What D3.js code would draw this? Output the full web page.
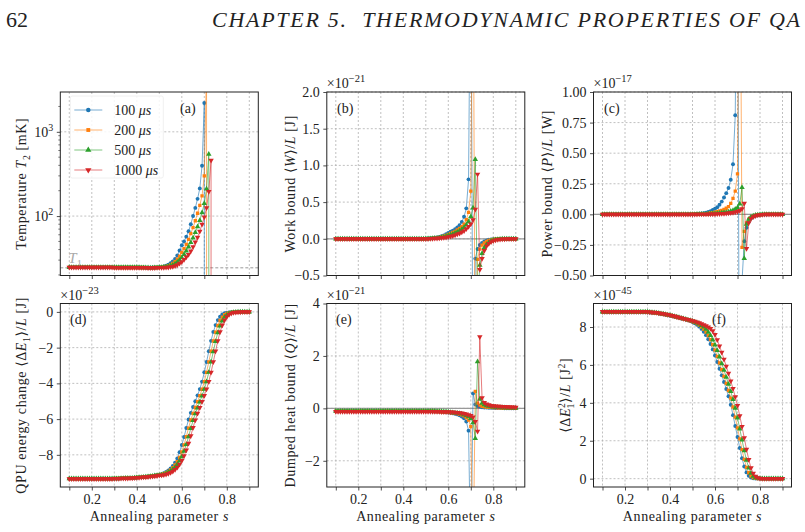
<!DOCTYPE html>
<html>
<head>
<meta charset="utf-8">
<script src="https://cdn.jsdelivr.net/npm/d3@7"></script>
<style>
  body { margin: 0; background: #fff; }
  svg text { font-family: "Liberation Serif", "DejaVu Serif", serif; fill: #222; }
</style>
</head>
<body>
<svg id="fig" width="805" height="532"></svg>
<script>
// annealing parameter grid
const sVals = [0.10,0.11,0.12,0.13,0.14,0.15,0.16,0.17,0.18,0.19,
  0.20,0.21,0.22,0.23,0.24,0.25,0.26,0.27,0.28,0.29,
  0.30,0.31,0.32,0.33,0.34,0.35,0.36,0.37,0.38,0.39,
  0.40,0.41,0.42,0.43,0.44,0.45,0.46,0.47,0.48,0.49,
  0.50,0.51,0.52,0.53,0.54,0.55,0.56,0.57,0.58,0.59,
  0.60,0.61,0.62,0.63,0.64,0.65,0.66,0.67,0.68,0.69,
  0.70,0.71,0.72,0.73,0.74,0.75,0.76,0.77,0.78,0.79,
  0.80,0.81,0.82,0.83,0.84,0.85,0.86,0.87,0.88,0.89,
  0.90];

const seriesNames = ["100", "200", "500", "1000"];
const xTicks = [0.1,0.2,0.3,0.4,0.5,0.6,0.7,0.8,0.9];
const xLabelTicks = [0.2,0.4,0.6,0.8];

// (a) temperature T2 [mK]  (negative = unphysical, clipped on log axis)
const t2_100 = [24.6,24.6,24.6,24.6,24.6,24.6,24.6,24.6,24.6,24.6,
  24.6,24.6,24.6,24.6,24.6,24.6,24.6,24.6,24.6,24.6,
  24.5,24.5,24.5,24.5,24.5,24.5,24.5,24.5,24.5,24.5,
  24.5,24.5,24.5,24.5,24.4,24.4,24.4,24.5,24.5,24.6,
  24.7,24.9,25.2,25.7,26.4,27.5,29.0,31.0,34.0,39.0,
  45,50,57,66,80,100,125,160,213,396,
  2200,-1,-1,-1,-1,-1,-1,-1,-1,-1,
  -1,-1,-1,-1,-1,-1,-1,-1,-1,-1,
  -1];
const t2_200 = [24.6,24.6,24.6,24.6,24.6,24.6,24.6,24.6,24.6,24.6,
  24.6,24.6,24.6,24.6,24.6,24.6,24.6,24.6,24.6,24.6,
  24.5,24.5,24.5,24.5,24.5,24.5,24.5,24.5,24.5,24.5,
  24.5,24.5,24.5,24.5,24.4,24.4,24.4,24.4,24.5,24.5,
  24.6,24.7,24.9,25.2,25.7,26.4,27.4,28.8,30.8,33.5,
  37,41,46,53,62,73,88,108,134,174,
  300,6000,-1,-1,-1,-1,-1,-1,-1,-1,
  -1,-1,-1,-1,-1,-1,-1,-1,-1,-1,
  -1];
const t2_500 = [24.6,24.6,24.6,24.6,24.6,24.6,24.6,24.6,24.6,24.6,
  24.6,24.6,24.6,24.6,24.6,24.6,24.6,24.6,24.6,24.6,
  24.5,24.5,24.5,24.5,24.5,24.5,24.5,24.5,24.5,24.5,
  24.5,24.5,24.4,24.4,24.4,24.4,24.3,24.3,24.4,24.4,
  24.5,24.6,24.7,24.9,25.2,25.6,26.2,27.1,28.3,30.0,
  32,35,38.5,43,48.5,55,64,75,89,110,
  141,210,543,-1,-1,-1,-1,-1,-1,-1,
  -1,-1,-1,-1,-1,-1,-1,-1,-1,-1,
  -1];
const t2_1000 = [24.7,24.7,24.7,24.7,24.7,24.7,24.7,24.7,24.7,24.7,
  24.6,24.6,24.6,24.6,24.6,24.6,24.6,24.6,24.6,24.6,
  24.5,24.5,24.5,24.5,24.5,24.5,24.5,24.5,24.5,24.5,
  24.5,24.4,24.4,24.4,24.4,24.3,24.3,24.3,24.3,24.4,
  24.4,24.5,24.5,24.6,24.7,24.9,25.2,25.7,26.4,27.4,
  28.7,30.4,32.5,35,38.5,43,49,56,66,80,
  97,125,195,460,-1,-1,-1,-1,-1,-1,
  -1,-1,-1,-1,-1,-1,-1,-1,-1,-1,
  -1];
const t1Level = 24.3;

// (b) work bound <W>/L  [1e-21 J]
const work_100 = [0,0,0,0,0,0,0,0,0,0, 0,0,0,0,0,0,0,0,0,0,
  0,0,0,0,0,0,0,0,0,0, 0,0,0,0,0,0,0,0,0,0,
  0.003,0.005,0.007,0.01,0.014,0.019,0.026,0.035,0.047,0.063,
  0.08,0.095,0.11,0.13,0.155,0.185,0.23,0.3,0.415,0.81,
  4.5,-2.5,-0.27,-0.14,-0.085,-0.055,-0.035,-0.022,-0.014,-0.009,
  -0.006,-0.004,-0.003,-0.002,-0.001,-0.001,0,0,0,0,
  0];
const work_200 = [0,0,0,0,0,0,0,0,0,0, 0,0,0,0,0,0,0,0,0,0,
  0,0,0,0,0,0,0,0,0,0, 0,0,0,0,0,0,0,0,0,0,
  0.002,0.003,0.005,0.007,0.01,0.014,0.019,0.026,0.035,0.047,
  0.06,0.072,0.086,0.1,0.12,0.14,0.165,0.2,0.26,0.36,
  0.65,4.5,-2.5,-0.28,-0.14,-0.085,-0.055,-0.035,-0.022,-0.014,
  -0.009,-0.006,-0.004,-0.003,-0.002,-0.001,-0.001,0,0,0,
  0];
const work_500 = [0,0,0,0,0,0,0,0,0,0, 0,0,0,0,0,0,0,0,0,0,
  0,0,0,0,0,0,0,0,0,0, 0,0,0,0,0,0,0,0,0,0,
  0.001,0.002,0.003,0.005,0.007,0.01,0.013,0.018,0.024,0.032,
  0.042,0.052,0.063,0.076,0.09,0.107,0.128,0.155,0.19,0.235,
  0.3,0.42,1.08,-0.9,-0.36,-0.2,-0.12,-0.075,-0.048,-0.03,
  -0.02,-0.013,-0.008,-0.005,-0.003,-0.002,-0.001,-0.001,0,0,
  0];
const work_1000 = [0,0,0,0,0,0,0,0,0,0, 0,0,0,0,0,0,0,0,0,0,
  0,0,0,0,0,0,0,0,0,0, 0,0,0,0,0,0,0,0,0,0,
  0.001,0.001,0.002,0.003,0.005,0.007,0.009,0.012,0.016,0.021,
  0.027,0.034,0.042,0.052,0.063,0.076,0.092,0.11,0.135,0.165,
  0.2,0.26,0.4,0.88,-0.42,-0.27,-0.16,-0.1,-0.065,-0.042,
  -0.027,-0.018,-0.012,-0.008,-0.005,-0.003,-0.002,-0.001,-0.001,0,
  0];

// (c) power bound <P>/L  [1e-17 W]
const power_100 = [0,0,0,0,0,0,0,0,0,0, 0,0,0,0,0,0,0,0,0,0,
  0,0,0,0,0,0,0,0,0,0, 0,0,0,0,0,0,0,0,0,0,
  0.002,0.003,0.004,0.005,0.007,0.01,0.014,0.019,0.026,0.035,
  0.045,0.058,0.078,0.104,0.137,0.173,0.215,0.283,0.41,0.81,
  3,-3,-0.55,-0.22,-0.11,-0.06,-0.035,-0.02,-0.012,-0.007,
  -0.004,-0.002,-0.001,-0.001,0,0,0,0,0,0,
  0];
const power_200 = [0,0,0,0,0,0,0,0,0,0, 0,0,0,0,0,0,0,0,0,0,
  0,0,0,0,0,0,0,0,0,0, 0,0,0,0,0,0,0,0,0,0,
  0.001,0.001,0.002,0.002,0.003,0.004,0.006,0.008,0.011,0.014,
  0.018,0.022,0.027,0.033,0.041,0.05,0.063,0.09,0.13,0.19,
  0.33,3,-0.27,-0.14,-0.07,-0.04,-0.025,-0.015,-0.009,-0.005,
  -0.003,-0.002,-0.001,0,0,0,0,0,0,0,
  0];
const power_500 = [0,0,0,0,0,0,0,0,0,0, 0,0,0,0,0,0,0,0,0,0,
  0,0,0,0,0,0,0,0,0,0, 0,0,0,0,0,0,0,0,0,0,
  0,0,0.001,0.001,0.001,0.002,0.002,0.003,0.004,0.005,
  0.006,0.007,0.009,0.011,0.013,0.016,0.02,0.025,0.032,0.042,
  0.055,0.085,0.22,-0.36,-0.08,-0.04,-0.022,-0.012,-0.007,-0.004,
  -0.002,-0.001,-0.001,0,0,0,0,0,0,0,
  0];
const power_1000 = [0,0,0,0,0,0,0,0,0,0, 0,0,0,0,0,0,0,0,0,0,
  0,0,0,0,0,0,0,0,0,0, 0,0,0,0,0,0,0,0,0,0,
  0,0,0,0.001,0.001,0.001,0.001,0.002,0.002,0.003,
  0.003,0.004,0.005,0.006,0.007,0.008,0.01,0.012,0.015,0.018,
  0.022,0.03,0.045,0.09,-0.28,-0.07,-0.035,-0.02,-0.012,-0.007,
  -0.004,-0.002,-0.001,0,0,0,0,0,0,0,
  0];

// (d) QPU energy change <dE1>/L  [1e-23 J]
const dE_100 = [-9.33,-9.33,-9.33,-9.33,-9.33,-9.33,-9.33,-9.33,-9.33,-9.33,
  -9.33,-9.33,-9.33,-9.33,-9.33,-9.33,-9.33,-9.33,-9.33,-9.33,
  -9.32,-9.32,-9.32,-9.31,-9.31,-9.3,-9.3,-9.29,-9.29,-9.28,
  -9.27,-9.26,-9.25,-9.24,-9.23,-9.21,-9.2,-9.18,-9.16,-9.14,
  -9.12,-9.08,-9.03,-8.96,-8.87,-8.76,-8.62,-8.44,-8.2,-7.85,
  -7.45,-7.0,-6.5,-6.02,-5.65,-5.32,-5.0,-4.67,-4.32,-3.9,
  -3.38,-2.8,-2.2,-1.62,-1.12,-0.74,-0.46,-0.27,-0.15,-0.08,
  -0.045,-0.025,-0.013,-0.007,-0.004,-0.002,-0.001,0,0,0,
  0];
const dE_200 = [-9.33,-9.33,-9.33,-9.33,-9.33,-9.33,-9.33,-9.33,-9.33,-9.33,
  -9.33,-9.33,-9.33,-9.33,-9.33,-9.33,-9.33,-9.33,-9.33,-9.33,
  -9.32,-9.32,-9.32,-9.31,-9.31,-9.3,-9.3,-9.29,-9.29,-9.28,
  -9.27,-9.26,-9.25,-9.24,-9.23,-9.21,-9.2,-9.18,-9.16,-9.14,
  -9.13,-9.1,-9.06,-9.0,-8.93,-8.84,-8.72,-8.57,-8.38,-8.14,
  -7.83,-7.44,-6.98,-6.5,-6.05,-5.68,-5.35,-5.02,-4.69,-4.33,
  -3.9,-3.38,-2.8,-2.2,-1.62,-1.13,-0.76,-0.48,-0.29,-0.16,
  -0.09,-0.05,-0.027,-0.014,-0.007,-0.004,-0.002,-0.001,0,0,
  0];
const dE_500 = [-9.34,-9.34,-9.34,-9.34,-9.34,-9.34,-9.34,-9.34,-9.34,-9.34,
  -9.34,-9.34,-9.34,-9.34,-9.34,-9.34,-9.34,-9.34,-9.34,-9.34,
  -9.33,-9.33,-9.33,-9.32,-9.32,-9.31,-9.31,-9.3,-9.3,-9.29,
  -9.28,-9.27,-9.26,-9.25,-9.24,-9.22,-9.21,-9.19,-9.17,-9.15,
  -9.14,-9.12,-9.09,-9.05,-8.99,-8.92,-8.82,-8.7,-8.54,-8.34,
  -8.1,-7.8,-7.42,-6.98,-6.52,-6.08,-5.7,-5.37,-5.04,-4.7,
  -4.33,-3.9,-3.38,-2.8,-2.22,-1.65,-1.16,-0.78,-0.5,-0.3,
  -0.17,-0.09,-0.05,-0.026,-0.013,-0.007,-0.003,-0.001,0,0,
  0];
const dE_1000 = [-9.34,-9.34,-9.34,-9.34,-9.34,-9.34,-9.34,-9.34,-9.34,-9.34,
  -9.34,-9.34,-9.34,-9.34,-9.34,-9.34,-9.34,-9.34,-9.34,-9.34,
  -9.33,-9.33,-9.33,-9.32,-9.32,-9.31,-9.31,-9.3,-9.3,-9.29,
  -9.28,-9.27,-9.26,-9.25,-9.24,-9.23,-9.22,-9.2,-9.19,-9.17,
  -9.15,-9.14,-9.12,-9.09,-9.05,-9.0,-8.93,-8.83,-8.7,-8.53,
  -8.32,-8.06,-7.74,-7.36,-6.93,-6.48,-6.05,-5.68,-5.35,-5.02,
  -4.68,-4.32,-3.9,-3.38,-2.8,-2.2,-1.62,-1.12,-0.74,-0.46,
  -0.27,-0.15,-0.08,-0.04,-0.02,-0.01,-0.005,-0.002,-0.001,0,
  0];

// (e) dumped heat bound <Q>/L  [1e-21 J]
const heat_100 = [-0.11,-0.11,-0.11,-0.11,-0.11,-0.11,-0.11,-0.11,-0.11,-0.11,
  -0.11,-0.11,-0.11,-0.11,-0.11,-0.11,-0.11,-0.11,-0.11,-0.11,
  -0.11,-0.11,-0.11,-0.11,-0.11,-0.11,-0.11,-0.11,-0.11,-0.11,
  -0.11,-0.11,-0.11,-0.11,-0.11,-0.11,-0.11,-0.11,-0.11,-0.11,
  -0.11,-0.11,-0.11,-0.12,-0.12,-0.12,-0.13,-0.13,-0.14,-0.15,
  -0.16,-0.17,-0.19,-0.21,-0.23,-0.26,-0.31,-0.38,-0.5,-0.85,
  -6,0.57,0.15,0.09,0.06,0.045,0.035,0.03,0.025,0.02,
  0.018,0.015,0.012,0.01,0.008,0.006,0.005,0.004,0.003,0.002,
  0.002];
const heat_200 = [-0.11,-0.11,-0.11,-0.11,-0.11,-0.11,-0.11,-0.11,-0.11,-0.11,
  -0.11,-0.11,-0.11,-0.11,-0.11,-0.11,-0.11,-0.11,-0.11,-0.11,
  -0.11,-0.11,-0.11,-0.11,-0.11,-0.11,-0.11,-0.11,-0.11,-0.11,
  -0.11,-0.11,-0.11,-0.11,-0.11,-0.11,-0.11,-0.11,-0.11,-0.11,
  -0.11,-0.11,-0.11,-0.11,-0.12,-0.12,-0.12,-0.13,-0.13,-0.14,
  -0.15,-0.16,-0.17,-0.18,-0.2,-0.22,-0.25,-0.29,-0.35,-0.45,
  -0.7,-6,0.65,0.2,0.12,0.08,0.06,0.05,0.04,0.035,
  0.03,0.025,0.02,0.016,0.013,0.01,0.008,0.006,0.005,0.004,
  0.003];
const heat_500 = [-0.11,-0.11,-0.11,-0.11,-0.11,-0.11,-0.11,-0.11,-0.11,-0.11,
  -0.11,-0.11,-0.11,-0.11,-0.11,-0.11,-0.11,-0.11,-0.11,-0.11,
  -0.11,-0.11,-0.11,-0.11,-0.11,-0.11,-0.11,-0.11,-0.11,-0.11,
  -0.11,-0.11,-0.11,-0.11,-0.11,-0.11,-0.11,-0.11,-0.11,-0.11,
  -0.11,-0.11,-0.11,-0.11,-0.11,-0.12,-0.12,-0.12,-0.13,-0.13,
  -0.14,-0.15,-0.16,-0.17,-0.18,-0.19,-0.21,-0.24,-0.27,-0.32,
  -0.38,-0.55,-1.15,1.78,0.35,0.2,0.14,0.1,0.08,0.065,
  0.055,0.045,0.038,0.032,0.027,0.022,0.018,0.015,0.012,0.01,
  0.008];
const heat_1000 = [-0.12,-0.12,-0.12,-0.12,-0.12,-0.12,-0.12,-0.12,-0.12,-0.12,
  -0.12,-0.12,-0.12,-0.12,-0.12,-0.12,-0.12,-0.12,-0.12,-0.12,
  -0.12,-0.12,-0.12,-0.12,-0.12,-0.12,-0.12,-0.12,-0.12,-0.12,
  -0.12,-0.12,-0.12,-0.12,-0.12,-0.12,-0.12,-0.12,-0.12,-0.12,
  -0.12,-0.12,-0.12,-0.12,-0.12,-0.12,-0.12,-0.13,-0.13,-0.13,
  -0.13,-0.14,-0.14,-0.15,-0.16,-0.17,-0.18,-0.2,-0.22,-0.25,
  -0.28,-0.33,-0.5,-0.88,2.73,0.4,0.22,0.16,0.13,0.11,
  0.1,0.09,0.08,0.075,0.07,0.065,0.06,0.055,0.05,0.045,
  0.04];

// (f) energy variance <dE1^2>/L  [1e-45 J^2]
const varE_100 = [8.78,8.78,8.78,8.78,8.78,8.78,8.78,8.78,8.78,8.78,
  8.78,8.78,8.78,8.78,8.78,8.78,8.78,8.78,8.78,8.78,
  8.77,8.76,8.75,8.74,8.73,8.71,8.69,8.67,8.65,8.62,
  8.6,8.57,8.54,8.51,8.48,8.45,8.42,8.39,8.35,8.31,
  8.26,8.2,8.12,8.02,7.9,7.75,7.57,7.35,7.1,6.82,
  6.5,6.15,5.8,5.45,5.1,4.73,4.35,3.9,3.35,2.78,
  2.2,1.62,1.08,0.64,0.33,0.15,0.06,0.022,0.008,0.003,
  0.001,0,0,0,0,0,0,0,0,0,
  0];
const varE_200 = [8.79,8.79,8.79,8.79,8.79,8.79,8.79,8.79,8.79,8.79,
  8.79,8.79,8.79,8.79,8.79,8.79,8.79,8.79,8.79,8.79,
  8.78,8.77,8.76,8.75,8.74,8.72,8.7,8.68,8.66,8.63,
  8.61,8.58,8.55,8.52,8.49,8.46,8.43,8.4,8.37,8.33,
  8.29,8.24,8.18,8.1,8.0,7.88,7.73,7.55,7.33,7.07,
  6.78,6.45,6.1,5.75,5.4,5.03,4.65,4.25,3.78,3.25,
  2.68,2.1,1.53,1.02,0.6,0.31,0.14,0.055,0.02,0.007,
  0.002,0.001,0,0,0,0,0,0,0,0,
  0];
const varE_500 = [8.8,8.8,8.8,8.8,8.8,8.8,8.8,8.8,8.8,8.8,
  8.8,8.8,8.8,8.8,8.8,8.8,8.8,8.8,8.8,8.8,
  8.79,8.78,8.77,8.76,8.75,8.73,8.71,8.69,8.67,8.64,
  8.62,8.59,8.56,8.53,8.5,8.47,8.44,8.41,8.38,8.35,
  8.31,8.27,8.22,8.16,8.09,8.0,7.88,7.73,7.55,7.32,
  7.06,6.76,6.42,6.07,5.72,5.36,4.98,4.6,4.18,3.72,
  3.2,2.63,2.05,1.48,0.97,0.57,0.29,0.13,0.05,0.02,
  0.007,0.003,0.001,0,0,0,0,0,0,0,
  0];
const varE_1000 = [8.81,8.81,8.81,8.81,8.81,8.81,8.81,8.81,8.81,8.81,
  8.81,8.81,8.81,8.81,8.81,8.81,8.81,8.81,8.81,8.81,
  8.8,8.79,8.78,8.77,8.76,8.74,8.72,8.7,8.68,8.65,
  8.63,8.6,8.57,8.54,8.51,8.48,8.45,8.42,8.39,8.36,
  8.33,8.3,8.26,8.22,8.17,8.12,8.06,8.0,7.92,7.8,
  7.6,7.32,7.0,6.66,6.3,5.93,5.55,5.15,4.75,4.32,
  3.85,3.32,2.75,2.15,1.55,1.0,0.57,0.28,0.12,0.05,
  0.02,0.008,0.003,0.001,0,0,0,0,0,0,
  0];

// ---- styling ----
const colors = ["#1f77b4", "#ff7f0e", "#2ca02c", "#d62728"];
const symbols = [d3.symbolCircle, d3.symbolSquare, d3.symbolTriangle, d3.symbolTriangle];
const symSize = [12, 11, 13, 13];
const symRot = [0, 0, 0, 180];

const colX = [60.3, 326.8, 593.5], axW = 198;
const rowY = [92, 303.5], axH = 183.5;
const fs = 14;

const minus = s => s.replace(/-/g, "\u2212");

const panels = [
  { id: "a", col: 0, row: 0, log: true, domain: [19.7, 2970], data: [t2_100, t2_200, t2_500, t2_1000],
    yticks: [100, 1000], letter: [180, 113], ylx: -34,
    ylabel: [{t: "Temperature "}, {t: "T", i: 1}, {t: "2", s: 1, dy: 4}, {t: " [mK]", dy: -4}] },
  { id: "b", col: 1, row: 0, domain: [-0.5, 2.0], data: [work_100, work_200, work_500, work_1000],
    yticks: [-0.5, 0, 0.5, 1.0, 1.5, 2.0], fmt: d3.format(".1f"), zero: true, exp: "\u221221", letter: [337, 113], ylx: -32,
    ylabel: [{t: "Work bound \u27E8"}, {t: "W", i: 1}, {t: "\u27E9/"}, {t: "L", i: 1}, {t: " [J]"}] },
  { id: "c", col: 2, row: 0, domain: [-0.5, 1.0], data: [power_100, power_200, power_500, power_1000],
    yticks: [-0.5, -0.25, 0, 0.25, 0.5, 0.75, 1.0], fmt: d3.format(".2f"), zero: true, exp: "\u221217", letter: [604, 113], ylx: -42,
    ylabel: [{t: "Power bound \u27E8"}, {t: "P", i: 1}, {t: "\u27E9/"}, {t: "L", i: 1}, {t: " [W]"}] },
  { id: "d", col: 0, row: 1, domain: [-9.8, 0.47], data: [dE_100, dE_200, dE_500, dE_1000],
    yticks: [-8, -6, -4, -2, 0], fmt: d3.format("d"), exp: "\u221223", letter: [70, 324], ylx: -34,
    ylabel: [{t: "QPU energy change \u27E8\u0394"}, {t: "E", i: 1}, {t: "1", s: 1, dy: 4}, {t: "\u27E9/", dy: -4}, {t: "L", i: 1}, {t: " [J]"}] },
  { id: "e", col: 1, row: 1, domain: [-3, 4], data: [heat_100, heat_200, heat_500, heat_1000],
    yticks: [-2, 0, 2, 4], fmt: d3.format("d"), zero: true, exp: "\u221221", letter: [336, 324], ylx: -32,
    ylabel: [{t: "Dumped heat bound \u27E8"}, {t: "Q", i: 1}, {t: "\u27E9/"}, {t: "L", i: 1}, {t: " [J]"}] },
  { id: "f", col: 2, row: 1, domain: [-0.44, 9.24], data: [varE_100, varE_200, varE_500, varE_1000],
    yticks: [0, 2, 4, 6, 8], fmt: d3.format("d"), exp: "\u221245", letter: [712, 324], ylx: -24,
    ylabel: [{t: "\u27E8\u0394"}, {t: "E", i: 1}, {t: "2", s: 1, dy: -5}, {t: "1", s: 1, dx: -6, dy: 9}, {t: "\u27E9/", dy: -4}, {t: "L", i: 1}, {t: " [J"}, {t: "2", s: 1, dy: -5}, {t: "]", dy: 5}] }
];

const svg = d3.select("#fig");

function rich(textSel, parts, size) {
  parts.forEach(p => {
    const ts = textSel.append("tspan").text(p.t);
    if (p.i) ts.attr("font-style", "italic");
    if (p.s) ts.attr("font-size", size * 0.7);
    if (p.dy) ts.attr("dy", p.dy);
    if (p.dx) ts.attr("dx", p.dx);
  });
}

// page header
svg.append("text").attr("x", 6).attr("y", 27).attr("font-size", 22).text("62");
svg.append("text").attr("x", 212).attr("y", 27).attr("font-size", 22).attr("font-style", "italic")
  .attr("textLength", 588).attr("lengthAdjust", "spacing")
  .text("CHAPTER 5.\u00a0\u00a0THERMODYNAMIC PROPERTIES OF QA");

panels.forEach(p => {
  const x0 = colX[p.col], y0 = rowY[p.row];
  const g = svg.append("g").attr("transform", `translate(${x0},${y0})`);

  const x = d3.scaleLinear().domain([0.06, 0.94]).range([0, axW]);
  const y = (p.log ? d3.scaleLog() : d3.scaleLinear()).domain(p.domain).range([axH, 0]);
  const yv = v => p.log ? y(v > 0 ? v : 1e-300) : y(v);

  // grid
  g.append("g").selectAll("line").data(xTicks).join("line")
    .attr("x1", d => x(d)).attr("x2", d => x(d)).attr("y1", 0).attr("y2", axH)
    .attr("stroke", "#b0b0b0").attr("stroke-width", 0.8).attr("stroke-dasharray", "2,2");
  g.append("g").selectAll("line").data(p.yticks).join("line")
    .attr("x1", 0).attr("x2", axW).attr("y1", d => y(d)).attr("y2", d => y(d))
    .attr("stroke", "#b0b0b0").attr("stroke-width", 0.8).attr("stroke-dasharray", "2,2");

  if (p.zero) {
    g.append("line").attr("x1", 0).attr("x2", axW).attr("y1", y(0)).attr("y2", y(0))
      .attr("stroke", "#999").attr("stroke-width", 1.2);
  }
  if (p.log) {
    g.append("line").attr("x1", 0).attr("x2", axW).attr("y1", y(t1Level)).attr("y2", y(t1Level))
      .attr("stroke", "#999").attr("stroke-width", 1).attr("stroke-dasharray", "3,2");
    const tl = g.append("text").attr("x", 8).attr("y", y(t1Level) - 5).attr("font-size", 15).style("fill", "#aaa");
    rich(tl, [{t: "T", i: 1}, {t: "1", s: 1, dy: 4}], 15);
  }

  // data
  const clipId = "clip-" + p.id;
  g.append("clipPath").attr("id", clipId).append("rect").attr("width", axW).attr("height", axH);
  const plot = g.append("g").attr("clip-path", `url(#${clipId})`);
  const line = d3.line().x((d, i) => x(sVals[i])).y(d => yv(d));

  p.data.forEach((vals, k) => {
    plot.append("path").datum(vals).attr("d", line)
      .attr("fill", "none").attr("stroke", colors[k]).attr("stroke-width", 1).attr("stroke-opacity", 0.6);
    const sym = d3.symbol().type(symbols[k]).size(symSize[k])();
    plot.append("g").selectAll("path").data(vals).join("path")
      .attr("d", sym)
      .attr("transform", (d, i) => `translate(${x(sVals[i])},${yv(d)}) rotate(${symRot[k]})`)
      .attr("fill", colors[k]);
  });

  // axes
  const xa = g.append("g").attr("transform", `translate(0,${axH})`)
    .call(d3.axisBottom(x).tickValues(xTicks).tickSize(3.5).tickPadding(3.5)
      .tickFormat(d => (p.row === 1 && xLabelTicks.some(v => Math.abs(v - d) < 1e-9)) ? d3.format(".1f")(d) : ""));
  const ya = g.append("g")
    .call(d3.axisLeft(y).tickValues(p.yticks).tickSize(3.5).tickPadding(3.5)
      .tickFormat(d => p.log ? "" : minus(p.fmt(d))));
  [xa, ya].forEach(a => {
    a.select(".domain").remove();
    a.selectAll("line").attr("stroke", "#222").attr("stroke-width", 0.8);
    a.selectAll("text").attr("font-size", fs).attr("font-family", null).style("fill", "#222");
  });
  if (p.log) {
    ya.selectAll(".tick text").each(function(d) {
      const t = d3.select(this);
      t.text("10");
      t.append("tspan").attr("font-size", 10).attr("dy", -6).text(Math.round(Math.log10(d)));
    });
    const minor = [20, 30, 40, 50, 60, 70, 80, 90, 200, 300, 400, 500, 600, 700, 800, 900, 2000];
    g.append("g").selectAll("line").data(minor).join("line")
      .attr("x1", -2).attr("x2", 0).attr("y1", d => y(d)).attr("y2", d => y(d))
      .attr("stroke", "#222").attr("stroke-width", 0.6);
  }

  // frame
  g.append("rect").attr("width", axW).attr("height", axH)
    .attr("fill", "none").attr("stroke", "#222").attr("stroke-width", 1);

  // offset exponent
  if (p.exp) {
    const ot = g.append("text").attr("x", 0).attr("y", -4).attr("font-size", 14);
    ot.append("tspan").text("\u00d710");
    ot.append("tspan").attr("font-size", 10.5).attr("dy", -6).text(p.exp);
  }

  // panel letter
  svg.append("text").attr("x", p.letter[0]).attr("y", p.letter[1]).attr("font-size", fs).text(`(${p.id})`);

  // y label
  const yl = g.append("text").attr("transform", `translate(${p.ylx},${axH / 2}) rotate(-90)`)
    .attr("text-anchor", "middle").attr("font-size", fs).style("letter-spacing", "0.6px");
  rich(yl, p.ylabel, fs);

  // x label
  if (p.row === 1) {
    const xl = g.append("text").attr("x", axW / 2).attr("y", axH + 34).attr("text-anchor", "middle")
      .attr("font-size", fs).style("letter-spacing", "0.6px");
    rich(xl, [{t: "Annealing parameter "}, {t: "s", i: 1}], fs);
  }

  // legend
  if (p.id === "a") {
    const lg = g.append("g");
    lg.append("rect").attr("x", 10).attr("y", 4).attr("width", 93).attr("height", 82).attr("rx", 2)
      .attr("fill", "#fff").attr("fill-opacity", 0.85).attr("stroke", "#ececec").attr("stroke-width", 0.8);
    seriesNames.forEach((name, k) => {
      const ly = 18 + k * 20;
      lg.append("line").attr("x1", 14).attr("x2", 42).attr("y1", ly).attr("y2", ly)
        .attr("stroke", colors[k]).attr("stroke-width", 1).attr("stroke-opacity", 0.6);
      lg.append("path").attr("d", d3.symbol().type(symbols[k]).size(symSize[k] + 4)())
        .attr("transform", `translate(28,${ly}) rotate(${symRot[k]})`).attr("fill", colors[k]);
      const lt = lg.append("text").attr("x", 54).attr("y", ly + 5).attr("font-size", fs);
      rich(lt, [{t: name + " "}, {t: "\u03bcs", i: 1}], fs);
    });
  }
});
</script>
</body>
</html>
